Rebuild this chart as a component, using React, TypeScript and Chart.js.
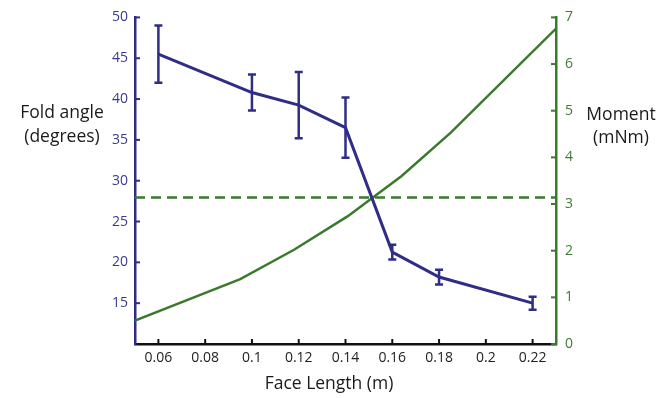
import React, { useEffect, useRef } from "react";
import { Chart, registerables } from "chart.js";

Chart.register(...registerables);

const faceLength = [0.06, 0.10, 0.12, 0.14, 0.16, 0.18, 0.22];
const foldAngle = [45.5, 40.8, 39.25, 36.5, 21.25, 18.2, 15.0];
const foldErr = [3.5, 2.2, 4.05, 3.7, 0.9, 0.9, 0.8];

const momentX = [0.05, 0.095, 0.118, 0.141, 0.164, 0.185, 0.23];
const moment = [0.5, 1.39, 2.02, 2.74, 3.6, 4.53, 6.76];
const momentThreshold = 3.14;

const xTicks = [0.06, 0.08, 0.1, 0.12, 0.14, 0.16, 0.18, 0.2, 0.22];
const leftTicks = [15, 20, 25, 30, 35, 40, 45, 50];
const rightTicks = [0, 1, 2, 3, 4, 5, 6, 7];

const BLUE = "#2f2d86";
const BLUE_TXT = "#3a3a90";
const GREEN = "#3b7a2c";
const GREEN_TXT = "#3e7c30";
const FONT = '"Open Sans", sans-serif';

const errorBarPlugin = {
  id: "errorBars",
  afterDatasetsDraw(chart: any) {
    const { ctx } = chart;
    const x = chart.scales.x;
    const y = chart.scales.yL;
    ctx.save();
    ctx.strokeStyle = BLUE;
    ctx.lineWidth = 2.5;
    faceLength.forEach((fx, i) => {
      const px = x.getPixelForValue(fx);
      const top = y.getPixelForValue(foldAngle[i] + foldErr[i]);
      const bot = y.getPixelForValue(foldAngle[i] - foldErr[i]);
      ctx.beginPath();
      ctx.moveTo(px, top);
      ctx.lineTo(px, bot);
      ctx.moveTo(px - 4, top);
      ctx.lineTo(px + 4, top);
      ctx.moveTo(px - 4, bot);
      ctx.lineTo(px + 4, bot);
      ctx.stroke();
    });
    ctx.restore();
  },
};

const tickMarkPlugin = {
  id: "tickMarks",
  afterDraw(chart: any) {
    const { ctx, chartArea } = chart;
    const { x, yL, yR } = chart.scales;
    ctx.save();
    ctx.lineWidth = 2;
    ctx.strokeStyle = BLUE;
    leftTicks.forEach((v) => {
      const py = yL.getPixelForValue(v);
      ctx.beginPath();
      ctx.moveTo(chartArea.left, py);
      ctx.lineTo(chartArea.left + 5, py);
      ctx.stroke();
    });
    ctx.strokeStyle = GREEN;
    rightTicks.forEach((v) => {
      const py = yR.getPixelForValue(v);
      ctx.beginPath();
      ctx.moveTo(chartArea.right, py);
      ctx.lineTo(chartArea.right - 5, py);
      ctx.stroke();
    });
    ctx.strokeStyle = "#111";
    xTicks.forEach((v) => {
      const px = x.getPixelForValue(v);
      ctx.beginPath();
      ctx.moveTo(px, chartArea.bottom);
      ctx.lineTo(px, chartArea.bottom - 5);
      ctx.stroke();
    });
    // titles
    ctx.fillStyle = "#1a1a1a";
    ctx.font = `17.5px ${FONT}`;
    ctx.textAlign = "center";
    ctx.textBaseline = "middle";
    ctx.fillText("Fold angle", 62, 113);
    ctx.fillText("(degrees)", 62, 137);
    ctx.fillText("Moment", 621, 115);
    ctx.fillText("(mNm)", 621, 138);
    ctx.fillText("Face Length (m)", 329, 384);
    ctx.restore();
  },
};

export default function App() {
  const ref = useRef<HTMLCanvasElement>(null);
  useEffect(() => {
    if (!ref.current) return;
    const chart = new Chart(ref.current, {
      type: "line",
      data: {
        datasets: [
          {
            label: "Fold angle",
            data: faceLength.map((v, i) => ({ x: v, y: foldAngle[i] })),
            borderColor: BLUE,
            borderWidth: 3,
            pointRadius: 0,
            yAxisID: "yL",
            tension: 0,
          },
          {
            label: "Moment",
            data: momentX.map((v, i) => ({ x: v, y: moment[i] })),
            borderColor: GREEN,
            borderWidth: 2.5,
            pointRadius: 0,
            yAxisID: "yR",
            tension: 0,
          },
          {
            label: "Threshold",
            data: [
              { x: 0.05, y: momentThreshold },
              { x: 0.23, y: momentThreshold },
            ],
            borderColor: GREEN,
            borderWidth: 2.5,
            borderDash: [10, 6],
            pointRadius: 0,
            yAxisID: "yR",
          },
        ],
      },
      options: {
        responsive: false,
        animation: false,
        layout: { padding: { top: 13, left: 0, right: 0, bottom: 0 } },
        plugins: { legend: { display: false }, tooltip: { enabled: false } },
        scales: {
          x: {
            type: "linear",
            min: 0.05,
            max: 0.23,
            afterBuildTicks: (s: any) => {
              s.ticks = xTicks.map((v) => ({ value: v }));
            },
            afterFit: (s: any) => {
              s.height = 54;
            },
            ticks: {
              autoSkip: false,
              maxRotation: 0,
              padding: 6,
              color: "#222",
              font: { family: FONT, size: 14 },
              callback: (v: any) => String(Number(Number(v).toFixed(2))),
            },
            grid: { display: false, drawTicks: false },
            border: { display: true, color: "#111", width: 2.5 },
          },
          yL: {
            type: "linear",
            position: "left",
            min: 10,
            max: 50,
            afterBuildTicks: (s: any) => {
              s.ticks = leftTicks.map((v) => ({ value: v }));
            },
            afterFit: (s: any) => {
              s.width = 135;
            },
            ticks: {
              padding: 7,
              color: BLUE_TXT,
              font: { family: FONT, size: 14 },
            },
            grid: { display: false, drawTicks: false },
            border: { display: true, color: BLUE, width: 2.5 },
          },
          yR: {
            type: "linear",
            position: "right",
            min: 0,
            max: 7,
            afterBuildTicks: (s: any) => {
              s.ticks = rightTicks.map((v) => ({ value: v }));
            },
            afterFit: (s: any) => {
              s.width = 100;
            },
            ticks: {
              padding: 9,
              color: GREEN_TXT,
              font: { family: FONT, size: 14 },
            },
            grid: { display: false, drawTicks: false },
            border: { display: true, color: GREEN, width: 2.5 },
          },
        },
      },
      plugins: [errorBarPlugin, tickMarkPlugin],
    });
    return () => chart.destroy();
  }, []);
  return (
    <div style={{ position: "absolute", left: 0, top: 0, width: 656, height: 398, background: "#fff" }}>
      <canvas ref={ref} width={656} height={398} />
    </div>
  );
}
